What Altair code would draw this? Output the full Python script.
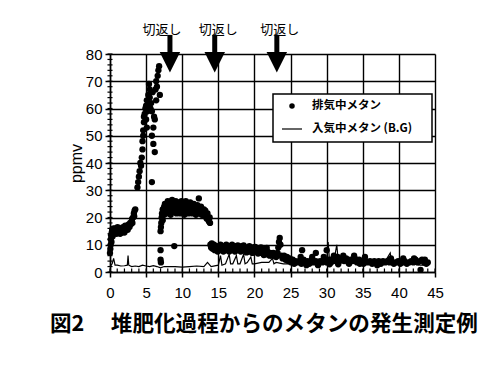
import altair as alt
import pandas as pd

# ---- data ----
exh_x = [0.0, 0.05, 0.1, 0.1, 0.15, 0.2, 0.25, 0.3, 0.35, 0.4, 0.5, 0.55, 0.6, 0.7, 0.75, 0.8, 0.9, 1.0, 1.05, 1.1,
         1.2, 1.3, 1.35, 1.4, 1.5, 1.6, 1.65, 1.7, 1.8, 1.9, 2.0, 2.05, 2.1, 2.2, 2.3, 2.4, 2.45, 2.5, 2.6, 2.7,
         2.8, 2.9, 3.0, 3.05, 3.1, 3.2, 3.3, 3.35, 3.4, 3.5,
         3.8, 3.9, 4.0, 4.1, 4.2, 4.3, 4.4, 4.5, 4.5, 4.6, 4.6, 4.7, 4.7, 4.8, 4.9, 5.0, 5.0, 5.1, 5.1, 5.2,
         5.3, 5.3, 5.4, 5.5, 5.6, 5.7, 5.8, 5.8, 5.8, 5.9, 6.0, 6.0, 6.1, 6.2, 6.2, 6.3, 6.4, 6.5, 6.6, 6.7,
         6.8, 6.9, 6.4, 5.5,
         7.0, 7.05, 7.1, 7.15, 7.2, 7.3, 7.3, 7.4, 7.5, 7.5, 7.6, 7.7, 7.8, 7.9, 8.0, 8.1, 8.2, 8.3, 8.4, 8.5,
         8.6, 8.7, 8.8, 8.9, 9.0, 9.1, 9.2, 9.3, 9.4, 9.5, 9.6, 9.7, 9.8, 9.9, 10.0, 10.1, 10.2, 10.3, 10.4, 10.5,
         10.6, 10.7, 10.8, 10.9, 11.0, 11.1, 11.2, 11.3, 11.4, 11.5, 11.6, 11.7, 11.8, 11.9, 12.0, 12.1, 12.3, 12.2, 12.4, 12.5,
         12.6, 12.7, 12.8, 12.9, 13.0, 13.1, 13.2, 13.3, 13.4, 13.5, 13.6, 13.7, 13.8, 13.85,
         7.0, 7.0, 7.05, 8.9,
         13.9, 14.0, 14.1, 14.2, 14.3, 14.5, 14.6, 14.8, 15.0, 15.2, 15.4, 15.6, 15.8, 16.0, 16.2, 16.4, 16.6, 16.8, 17.0, 17.2,
         17.4, 17.6, 17.8, 18.0, 18.2, 18.4, 18.6, 18.8, 19.0, 19.2, 19.4, 19.6, 19.8, 20.0, 20.2, 20.4, 20.6, 20.8, 21.0, 21.2,
         21.4, 21.6, 21.8, 22.0, 22.2, 22.4, 22.6,
         14.4, 14.9, 15.3, 15.7, 16.1, 16.5, 16.9, 17.3, 17.7, 18.1, 18.5, 18.9, 19.3, 19.7, 20.1, 20.5, 20.9, 21.3, 21.7, 22.1,
         22.8, 23.0, 23.2, 23.3, 23.4, 23.5, 23.6, 23.7, 23.9, 24.1, 24.3, 24.5, 24.7, 24.9, 25.1, 25.3, 25.5, 25.7, 25.9,
         26.2, 26.6, 26.5, 26.8, 27.0, 27.3, 27.6, 27.9, 28.2, 28.5, 28.5, 28.8, 29.1, 29.4, 29.7, 30.0, 30.0, 30.3, 30.6, 30.9,
         31.2, 31.5, 31.8, 32.1, 32.4, 32.7, 33.0, 33.3, 33.6, 33.9, 34.2, 34.5, 34.8, 35.1, 35.4, 35.7, 36.0, 36.3, 36.6, 36.9,
         37.2, 37.5, 37.8, 38.1, 38.4, 38.7, 39.0, 39.3, 39.6, 39.9, 40.2, 40.5, 40.8, 41.1, 41.4, 41.7, 42.0, 42.3, 42.6, 42.9,
         43.2, 43.5, 43.8, 44.0, 43.0,
         26.4, 27.2, 28.0, 28.8, 29.6, 30.4, 31.0, 31.6, 32.3, 33.1, 33.8, 34.6, 35.3, 37.0, 38.9, 40.6, 42.1, 43.6]
exh_y = [7.0, 8.5, 10, 12, 13.5, 11, 14.5, 15.5, 13, 15, 16, 14, 15, 14.5, 16, 15.5, 14, 15, 16.5, 15,
         14.5, 16, 15, 14, 15.5, 16, 14.5, 15, 16.5, 15, 14.5, 16, 17, 15.5, 16.5, 17, 15.5, 16.5, 17.5, 16.5,
         18, 17.5, 18.5, 19.5, 18, 20, 21.5, 20.5, 22.5, 23,
         31, 33, 35, 37, 40, 39, 42, 45, 48, 50, 52, 55, 57, 58, 60, 56, 61, 53, 63, 59,
         62, 65, 69, 64, 60, 62, 59, 50, 33, 66, 53, 47, 57, 44, 56, 67, 70, 68, 72, 74,
         75.5, 65, 63, 67,
         15, 16.5, 18, 20, 21.5, 23, 19, 22, 24, 21, 25, 23, 21.5, 24.5, 26, 22, 24, 25.5, 21, 23.5,
         26.5, 24, 22, 25, 23, 26, 21.5, 24.5, 22.5, 25.5, 23.5, 21.5, 24, 26, 22.5, 25, 23.5, 21, 24.5, 26,
         22.5, 25, 23, 21.5, 24, 25.5, 22, 24, 21.5, 23.5, 25, 22, 24, 21, 23, 24.5, 27, 21.5, 23, 22,
         24, 21, 23, 21.5, 23, 20.5, 22.5, 21, 19.5, 21.5, 20, 18.5, 20, 18,
         8, 4.5, 3.5, 9.5,
         10, 9, 10.5, 8.5, 9.5, 8, 9.5, 8.5, 9.5, 8, 9, 8.5, 9.5, 8, 9, 8.5, 9.5, 8, 9, 8.5,
         9.5, 8, 9, 8.5, 9.5, 8, 9, 8.5, 9, 7.5, 8.5, 8, 9, 7.5, 8.5, 7.5, 8, 7, 8, 7,
         7.5, 6.5, 7.5, 6.5, 7, 6, 7,
         10, 7.5, 10, 7.5, 10, 7.5, 10, 7.5, 9.8, 7.5, 9.8, 7.2, 9.5, 7, 9.2, 6.8, 9, 6.2, 8.8, 6,
         6, 5.5, 7, 9, 11, 12.5, 10, 6, 5, 6, 4.5, 5.5, 4, 5, 3.5, 4.5, 3, 4, 3.5,
         4, 8, 3, 4.5, 3.5, 4, 3, 4.5, 3.5, 7, 4, 3, 4, 3.5, 4.5, 8, 3.5, 4.5, 3.5, 5,
         4, 5.5, 4, 5, 4, 5, 3.5, 4.5, 4, 5, 3.5, 4.5, 4, 3, 4, 3.5, 4, 3, 4, 3.5,
         4, 3, 4, 3.5, 4, 3.5, 4, 3, 3.5, 4, 3, 3.5, 4, 3, 3.5, 4, 3.5, 4.5, 3.5, 4,
         4.5, 3.5, 3, 3.5, 0.8,
         5.5, 2.5, 5.5, 2.5, 5.5, 2.8, 6, 2.8, 6, 3, 6, 3, 5.5, 2.5, 5, 5, 5, 4.5]

bg_x = [0.0, 0.3, 0.5, 0.7, 1.0, 1.5, 2.0, 2.4, 2.5, 2.6, 3.0, 3.5, 4.0, 4.5, 5.0, 5.5, 6.0, 6.5, 7.0, 7.5,
        8.0, 9.0, 10.0, 11.0, 12.0, 13.0, 13.5, 14.0, 15.0, 15.3, 15.5, 16.0, 16.5, 16.7, 17.0, 17.5, 17.7, 18.0, 18.5, 18.7,
        19.0, 19.5, 19.7, 20.0, 21.0, 22.0, 22.5, 22.7, 23.0, 24.0, 25.0, 26.0, 26.5, 27.0, 28.0, 29.0, 30.0, 30.2, 30.4, 31.0,
        31.4, 31.6, 32.0, 32.5, 33.0, 34.0, 35.0, 36.0, 37.0, 38.0, 38.8, 39.0, 40.0, 41.0, 42.0, 43.0, 44.0]
bg_y = [2.0, 3.0, 5.0, 2.5, 2.5, 2.2, 2.3, 2.5, 6.0, 2.5, 2.0, 2.2, 2.0, 2.5, 2.2, 2.0, 2.3, 2.0, 1.5, 2.0,
        2.0, 2.0, 1.8, 2.0, 2.2, 2.0, 3.5, 2.0, 2.5, 6.0, 2.5, 3.0, 6.5, 3.0, 3.0, 6.0, 3.0, 3.0, 6.5, 3.0,
        3.5, 5.5, 3.0, 3.0, 3.5, 3.5, 5.0, 3.0, 3.5, 3.0, 3.0, 3.5, 5.0, 3.0, 3.5, 3.5, 4.0, 11.0, 4.0, 4.0,
        10.0, 4.0, 4.5, 6.0, 4.0, 4.5, 4.0, 3.5, 3.5, 3.5, 7.0, 3.5, 3.5, 3.0, 3.0, 2.5, 2.5]

cut_x = [8.3, 14.5, 23.1]
cut_label_x = [7.2, 15.0, 23.5]
cut_label = ["切返し", "切返し", "切返し"]

x_ticks = [0, 5, 10, 15, 20, 25, 30, 35, 40, 45]
y_ticks = [0, 10, 20, 30, 40, 50, 60, 70, 80]
x_minor = list(range(0, 46))
y_minor = list(range(0, 81, 2))

legend_labels = ["排気中メタン", "入気中メタン (B.G)"]
caption = "図2　 堆肥化過程からのメタンの発生測定例"

# ---- encodings ----
FONT = "Liberation Sans"
JP = "Noto Sans CJK JP"
xs = alt.Scale(domain=[0, 45], nice=False, zero=False)
ys = alt.Scale(domain=[0, 80], nice=False, zero=False)
xax = alt.Axis(values=x_ticks, title=None, labelFont=FONT, labelFontSize=15, labelColor="black",
               tickColor="black", tickSize=5, tickWidth=1.5, labelPadding=8,
               domainColor="black", domainWidth=1.5, grid=True, gridColor="black",
               gridWidth=1.4, gridOpacity=1, labelFlush=False)
yax = alt.Axis(values=y_ticks, title="ppmv", titleFont=FONT, titleFontSize=16, titleFontWeight="normal",
               titleColor="black", titlePadding=1, labelFont=FONT, labelFontSize=15, labelColor="black",
               tickColor="black", tickSize=5, tickWidth=1.5, labelPadding=3,
               domainColor="black", domainWidth=1.5, grid=True, gridColor="black",
               gridWidth=1.4, gridOpacity=1)
X = alt.X("x:Q", scale=xs, axis=xax)
Y = alt.Y("y:Q", scale=ys, axis=yax)

bg_df = pd.DataFrame({"x": bg_x, "y": bg_y})
ex_df = pd.DataFrame({"x": exh_x, "y": exh_y})

bg = alt.Chart(bg_df).mark_line(color="black", strokeWidth=1.2).encode(x=X, y=Y)
pts = alt.Chart(ex_df).mark_circle(color="black", size=40, opacity=1).encode(x=X, y=Y)

# minor ticks
xm_df = pd.DataFrame({"x": x_minor, "y": [0] * len(x_minor), "y2": [1.3] * len(x_minor)})
xm = alt.Chart(xm_df).mark_rule(color="black", strokeWidth=1.2).encode(x=X, y=Y, y2="y2:Q")
ym_df = pd.DataFrame({"x": [-0.35] * len(y_minor), "x2": [0.35] * len(y_minor), "y": y_minor})
ym = alt.Chart(ym_df).mark_rule(color="black", strokeWidth=1.2).encode(x=X, x2="x2:Q", y=Y)

# arrows
shaft_df = pd.DataFrame({"x": cut_x, "y": [87.0] * 3, "y2": [79.0] * 3})
shaft = alt.Chart(shaft_df).mark_rule(color="black", strokeWidth=5).encode(x=X, y=Y, y2="y2:Q")
head_df = pd.DataFrame({"x": cut_x, "y": [77.0] * 3})
head = alt.Chart(head_df).mark_point(shape="M-1,-1L1,-1L0,1Z", size=420, filled=True,
                                     color="black", opacity=1).encode(x=X, y=Y)
lab_df = pd.DataFrame({"x": cut_label_x, "y": [88.8] * 3, "t": cut_label})
labs = alt.Chart(lab_df).mark_text(font=JP, fontSize=13, color="black").encode(x=X, y=Y, text="t:N")

# legend box (drawn manually)
one = pd.DataFrame({"t": [legend_labels[0]]})
two = pd.DataFrame({"t": [legend_labels[1]]})
box = alt.Chart(one).mark_rect(fill="white", stroke="black", strokeWidth=1.5).encode(
    x=alt.value(163), x2=alt.value(322), y=alt.value(40), y2=alt.value(88))
ldot = alt.Chart(one).mark_circle(color="black", size=30, opacity=1).encode(
    x=alt.value(182), y=alt.value(52))
lline = alt.Chart(two).mark_rule(color="black", strokeWidth=1.2).encode(
    x=alt.value(172), x2=alt.value(192), y=alt.value(75))
lt1 = alt.Chart(one).mark_text(font=JP, fontSize=11.5, fontWeight="bold", align="left",
                               baseline="middle", color="black").encode(
    x=alt.value(202), y=alt.value(52), text="t:N")
lt2 = alt.Chart(two).mark_text(font=JP, fontSize=11.5, fontWeight="bold", align="left",
                               baseline="middle", color="black").encode(
    x=alt.value(202), y=alt.value(75), text="t:N")

cap = alt.Chart(pd.DataFrame({"t": [caption]})).mark_text(
    font=JP, fontSize=21.6, fontWeight="bold", align="left", baseline="middle", color="black").encode(
    x=alt.value(-60), y=alt.value(271), text="t:N")

chart = alt.layer(bg, pts, xm, ym, shaft, head, labs, box, ldot, lline, lt1, lt2, cap).properties(
    width=325, height=218,
    autosize=alt.AutoSizeParams(type="none"),
    padding={"left": 102, "top": 46, "right": 50, "bottom": 80},
    background="white",
).configure_view(stroke=None)

chart.save("out.html", embed_options={"renderer": "svg", "actions": False})
